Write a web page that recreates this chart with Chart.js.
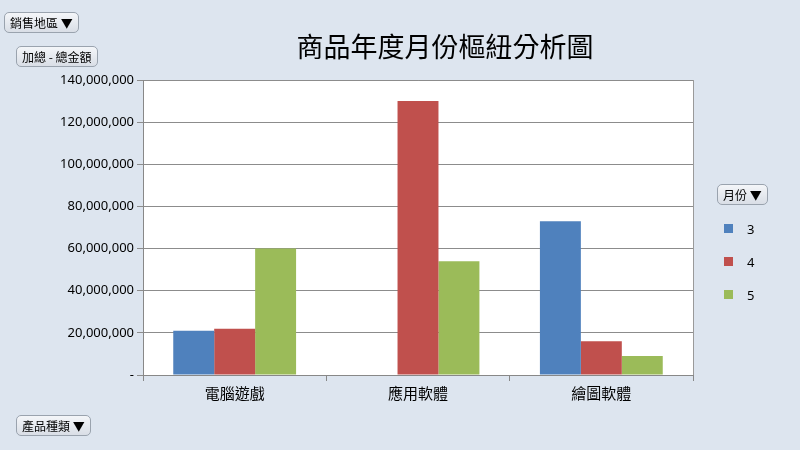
<!DOCTYPE html>
<html>
<head>
<meta charset="utf-8">
<script src="https://cdn.jsdelivr.net/npm/chart.js@4/dist/chart.umd.min.js"></script>
<style>
  body { margin: 0; background: #dde5ef; font-family: "Noto Sans CJK TC", "Noto Sans", sans-serif; }
  #wrap { position: relative; width: 800px; height: 450px; }
  canvas { position: absolute; left: 0; top: 0; }
  .btn { position: absolute; background: linear-gradient(#f4f6f9, #d9dee6); border: 1px solid #9aa3ae;
         border-radius: 5px; font-size: 12px; padding: 1px 5px; color: #000; white-space: nowrap; }
  #title { position: absolute; left: 0; width: 890px; top: 26px; text-align: center; font-size: 27px; color: #000; }
  #legend { position: absolute; left: 724px; top: 212px; font-size: 13px; font-family: "Noto Sans", sans-serif; }
  #legend div { height: 33px; display: flex; align-items: center; }
  #legend span.sw { display: inline-block; width: 9px; height: 9px; margin-right: 14px; }
</style>
</head>
<body>
<div id="wrap">
  <canvas id="c" width="800" height="450"></canvas>
  <div id="title">商品年度月份樞紐分析圖</div>
  <div class="btn" style="left:4px;top:12px">銷售地區 ▼</div>
  <div class="btn" style="left:16px;top:46px">加總 - 總金額</div>
  <div class="btn" style="left:16px;top:415px">產品種類 ▼</div>
  <div class="btn" style="left:717px;top:184px">月份 ▼</div>
  <div id="legend"></div>
</div>
<script>
const categories = ['電腦遊戲', '應用軟體', '繪圖軟體'];
const months = ['3', '4', '5'];
const month3 = [21000000, 0, 73000000];
const month4 = [22000000, 130000000, 16000000];
const month5 = [60000000, 54000000, 9000000];
const colors = ['#4f81bd', '#c0504d', '#9bbb59'];

const plotBg = {
  id: 'plotBg',
  beforeDraw(chart) {
    const a = chart.chartArea, ctx = chart.ctx;
    ctx.save();
    ctx.fillStyle = '#ffffff';
    ctx.fillRect(a.left, a.top, a.right - a.left, a.bottom - a.top);
    ctx.strokeStyle = '#9a9a9a';
    ctx.strokeRect(a.left + 0.5, a.top + 0.5, a.right - a.left, a.bottom - a.top);
    ctx.restore();
  }
};

new Chart(document.getElementById('c'), {
  type: 'bar',
  data: {
    labels: categories,
    datasets: [
      { label: months[0], data: month3, backgroundColor: colors[0] },
      { label: months[1], data: month4, backgroundColor: colors[1] },
      { label: months[2], data: month5, backgroundColor: colors[2] }
    ]
  },
  options: {
    responsive: false,
    animation: false,
    layout: { padding: { left: 10, right: 107, top: 80, bottom: 45 } },
    plugins: { legend: { display: false }, tooltip: { enabled: false } },
    datasets: { bar: { categoryPercentage: 0.67, barPercentage: 1 } },
    scales: {
      x: {
        grid: { offset: true, drawOnChartArea: false, color: '#888', tickLength: 6 },
        border: { color: '#888' },
        ticks: { color: '#000', font: { size: 15, family: 'Noto Sans CJK TC' } }
      },
      y: {
        min: 0, max: 140000000,
        afterFit(s) { s.width = 133; },
        grid: { color: '#8c8c8c', tickLength: 6 },
        border: { color: '#888' },
        ticks: {
          stepSize: 20000000, color: '#000',
          font: { size: 13, family: 'Noto Sans' },
          callback: v => v === 0 ? '-' : v.toLocaleString('en-US')
        }
      }
    }
  },
  plugins: [plotBg]
});

const lg = document.getElementById('legend');
months.forEach((m, i) => {
  const d = document.createElement('div');
  d.innerHTML = '<span class="sw" style="background:' + colors[i] + '"></span>' + m;
  lg.appendChild(d);
});
</script>
</body>
</html>
